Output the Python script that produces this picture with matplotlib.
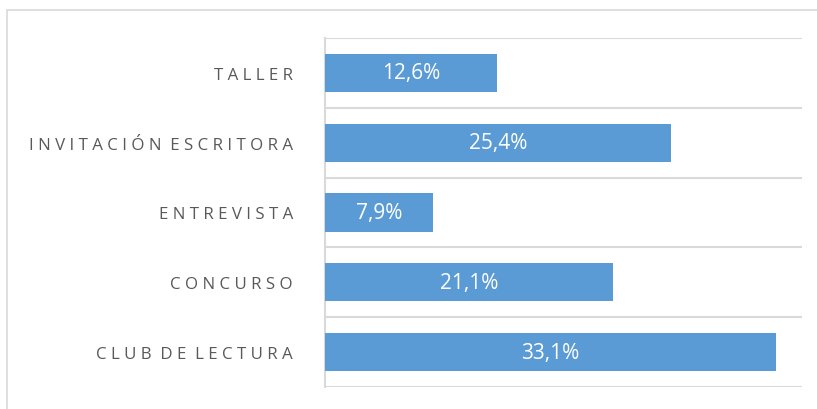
import matplotlib.pyplot as plt
from matplotlib.patches import Rectangle

categories = ['TALLER', 'INVITACIÓN ESCRITORA', 'ENTREVISTA', 'CONCURSO', 'CLUB DE LECTURA']
values = [12.6, 25.4, 7.9, 21.1, 33.1]
value_labels = ['12,6%', '25,4%', '7,9%', '21,1%', '33,1%']


def spaced(text):
    # imitate the wide letter spacing of the original labels
    return '  '.join(' '.join(word) for word in text.split(' '))


plt.rcParams['font.family'] = ['Open Sans', 'DejaVu Sans']

fig = plt.figure(figsize=(8.17, 4.10), dpi=100)
ax = fig.add_axes([325 / 817, 1 - 388 / 410, (802 - 325) / 817, (388 - 39) / 410])

# outer chart border
fig.add_artist(Rectangle((7 / 817, -0.1), 1.0, 1.1 - 11 / 410,
                         transform=fig.transFigure, fill=False,
                         edgecolor='#D9D9D9', linewidth=1.2))

ypos = list(range(len(categories)))
ax.barh(ypos, values, height=0.55, color='#5B9BD5', zorder=3)

for y, v, lab in zip(ypos, values, value_labels):
    ax.text(v / 2, y, lab, ha='center', va='center', color='white',
            fontsize=15, zorder=4)

ax.set_xlim(0, 35)
ax.set_ylim(len(categories) - 0.5, -0.5)
ax.set_yticks(ypos)
ax.set_yticklabels([spaced(c) for c in categories], color='#595959', fontsize=12.2)
ax.set_yticks([i - 0.5 for i in range(len(categories) + 1)], minor=True)
ax.tick_params(axis='y', which='both', length=0, pad=23)
ax.set_xticks([])
ax.grid(axis='y', which='minor', color='#D9D9D9', linewidth=1.5, zorder=0)

for side in ['top', 'right', 'bottom']:
    ax.spines[side].set_visible(False)
ax.spines['left'].set_color('#D9D9D9')
ax.spines['left'].set_linewidth(1.5)

fig.savefig('out.png', dpi=100)
